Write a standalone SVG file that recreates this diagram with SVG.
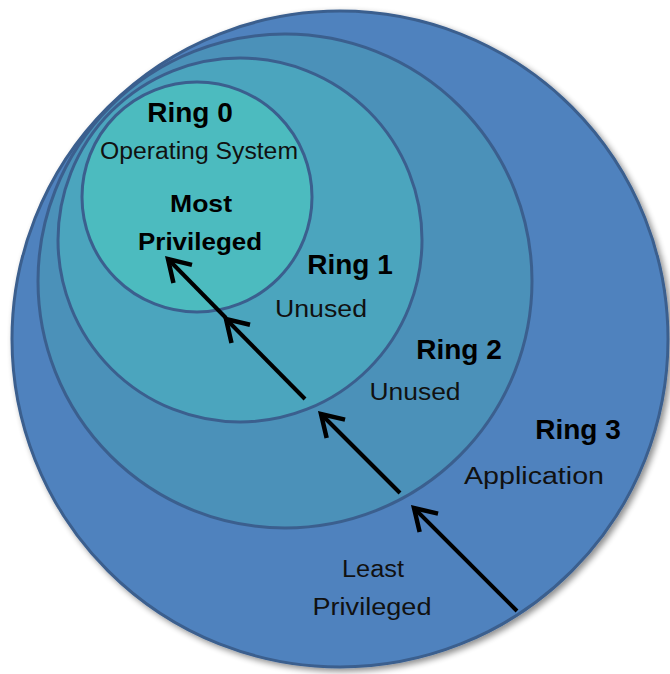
<svg xmlns="http://www.w3.org/2000/svg" width="670" height="674" viewBox="0 0 670 674">
  <defs>
    <style>
      .ring { stroke: #3b5f8e; stroke-width: 3; }
      .title { font-family: "Liberation Sans", Arial, sans-serif; font-weight: bold; font-size: 28px; fill: #000; text-anchor: middle; }
      .label { font-family: "Liberation Sans", Arial, sans-serif; font-size: 23px; fill: #111; text-anchor: middle; }
      .bold { font-family: "Liberation Sans", Arial, sans-serif; font-weight: bold; font-size: 24px; fill: #000; text-anchor: middle; }
      .arrow { stroke: #000; stroke-width: 4; fill: none; marker-end: url(#open); }
    </style>
    <marker id="open" markerUnits="userSpaceOnUse" viewBox="-26 -16 30 32" markerWidth="30" markerHeight="32" refX="0" refY="0" orient="auto" overflow="visible">
      <path d="M-21,-13 L0,0 L-21,13" fill="none" stroke="#000" stroke-width="4.5" stroke-linejoin="miter"/>
    </marker>
    <filter id="shadow" x="-10%" y="-10%" width="125%" height="125%">
      <feGaussianBlur in="SourceAlpha" stdDeviation="3"/>
      <feOffset dx="3" dy="3" result="b"/>
      <feComponentTransfer><feFuncA type="linear" slope="0.45"/></feComponentTransfer>
      <feMerge><feMergeNode/><feMergeNode in="SourceGraphic"/></feMerge>
    </filter>
  </defs>

  <!-- Ring 3: applications, outermost -->
  <g id="ring3">
    <circle class="ring" cx="340" cy="339" r="328" fill="#5082be" filter="url(#shadow)"/>
    <text class="title" x="578" y="439">Ring 3</text>
    <text class="label" x="534" y="484" textLength="140" lengthAdjust="spacingAndGlyphs">Application</text>
    <text class="label" x="373" y="577" textLength="62" lengthAdjust="spacingAndGlyphs">Least</text>
    <text class="label" x="372" y="615" textLength="119" lengthAdjust="spacingAndGlyphs">Privileged</text>
  </g>

  <!-- Ring 2 -->
  <g id="ring2">
    <circle class="ring" cx="285" cy="281" r="247" fill="#4b91b9"/>
    <text class="title" x="459" y="359">Ring 2</text>
    <text class="label" x="415" y="400" textLength="91" lengthAdjust="spacingAndGlyphs">Unused</text>
  </g>

  <!-- Ring 1 -->
  <g id="ring1">
    <circle class="ring" cx="240" cy="240" r="182" fill="#4ba5be"/>
    <text class="title" x="350" y="274">Ring 1</text>
    <text class="label" x="321" y="317" textLength="92" lengthAdjust="spacingAndGlyphs">Unused</text>
  </g>

  <!-- Ring 0: kernel, innermost -->
  <g id="ring0">
    <circle class="ring" cx="197" cy="197" r="115" fill="#4cbbbf"/>
    <text class="title" x="190" y="122">Ring 0</text>
    <text class="label" x="199" y="159" textLength="198" lengthAdjust="spacingAndGlyphs">Operating System</text>
    <text class="bold" x="201" y="212" textLength="62" lengthAdjust="spacingAndGlyphs">Most</text>
    <text class="bold" x="200" y="250" textLength="124" lengthAdjust="spacingAndGlyphs">Privileged</text>
  </g>

  <!-- privilege escalation path, one arrow per boundary crossed -->
  <g id="connectors">
    <line class="arrow" x1="517" y1="611" x2="414" y2="508"/>
    <line class="arrow" x1="400" y1="493" x2="321" y2="414"/>
    <line class="arrow" x1="305" y1="399" x2="226" y2="319"/>
    <line class="arrow" x1="226" y1="318" x2="168" y2="259"/>
  </g>
</svg>
